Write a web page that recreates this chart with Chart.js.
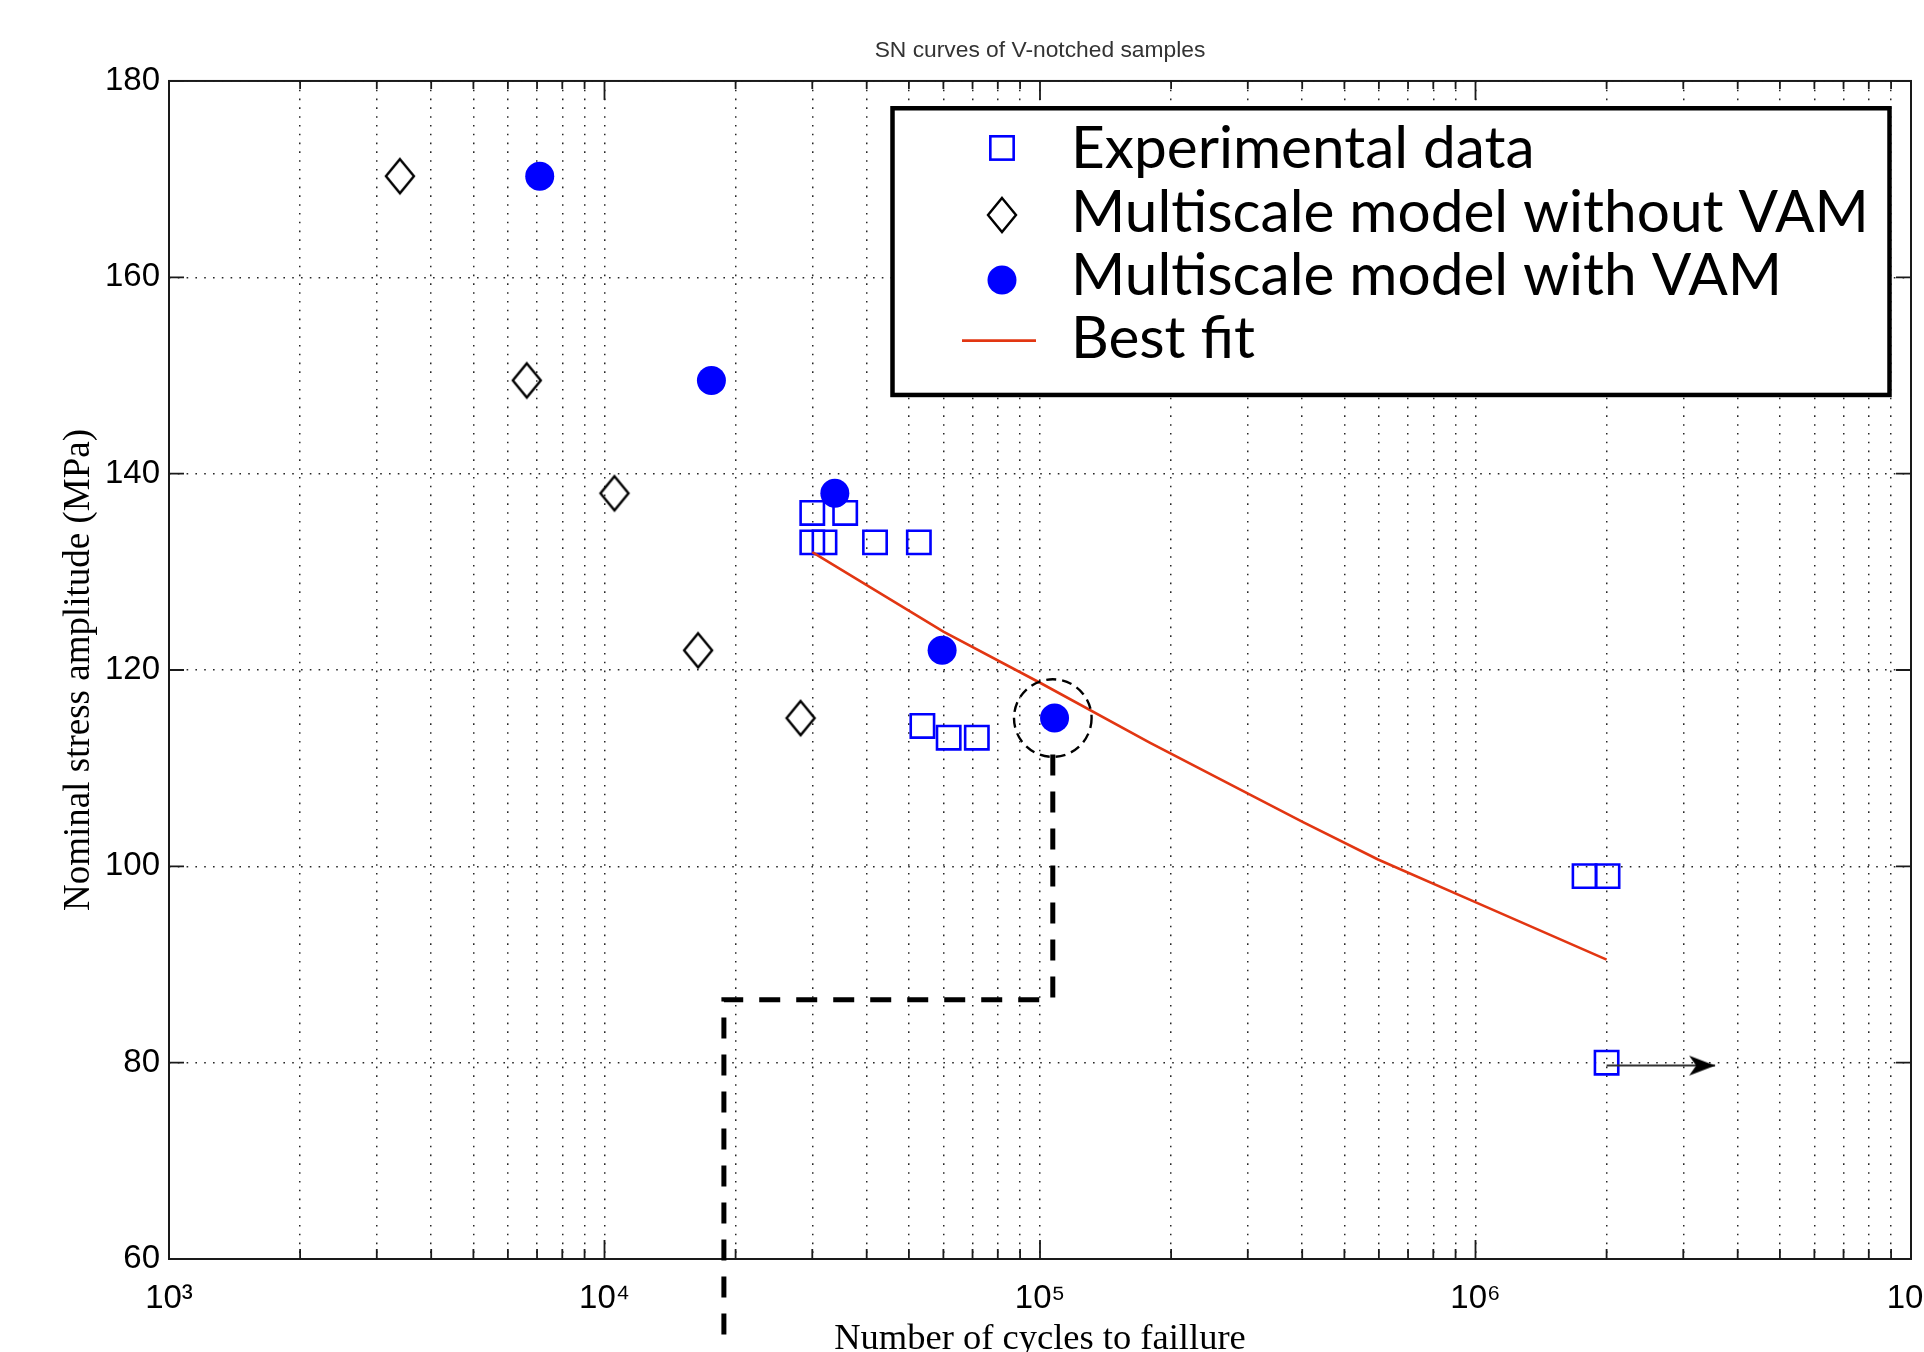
<!DOCTYPE html>
<html>
<head>
<meta charset="utf-8">
<script src="https://cdn.jsdelivr.net/npm/chart.js@4.4.1/dist/chart.umd.min.js"></script>
<style>
  html, body { margin: 0; padding: 0; background: #ffffff; }
  canvas { display: block; }
</style>
</head>
<body>
<canvas id="c" width="1924" height="1352"></canvas>
<script>
// ---------------- data ----------------
const titleText = 'SN curves of V-notched samples';
const xTitle = 'Number of cycles to faillure';
const yTitle = 'Nominal stress amplitude (MPa)';
const seriesLabels = ['Experimental data', 'Multiscale model without VAM', 'Multiscale model with VAM', 'Best fit'];

const expCycles = [30000, 35700, 30000, 32000, 41800, 52700, 53700, 61700, 71600, 1780000, 2010000, 2000000];
const expStress = [136, 136, 133, 133, 133, 133, 114.3, 113.1, 113.1, 99, 99, 80];

const noVamCycles = [3390, 6630, 10540, 16400, 28200];
const noVamStress = [170.3, 149.5, 138, 122, 115.1];

const vamCycles = [7100, 17600, 33800, 59600, 108000];
const vamStress = [170.3, 149.5, 138, 122, 115.1];

const fitCycles = [30000, 60000, 100000, 178600, 300400, 401800, 597300, 1005000, 2000000];
const fitStress = [132, 123.9, 118.7, 112.6, 107.4, 104.5, 100.7, 96.3, 90.5];

const circledCycles = [107000];
const circledStress = [115.1];

const guideCycles = [107000, 107000, 18800, 18800];
const guideStress = [111.4, 86.4, 86.4, 51.4];

const runoutCycles = [2000000, 3550000];
const runoutStress = [79.7, 79.7];

const xTickPowers = [1e3, 1e4, 1e5, 1e6, 1e7];
const xTickLabels = ['10\u00B3', '10\u2074', '10\u2075', '10\u2076', '10\u2077'];
const yTicks = [60, 80, 100, 120, 140, 160, 180];

// ---------------- helpers ----------------
const pts = (xs, ys) => xs.map((x, i) => ({ x: x, y: ys[i] }));

const xGrid = [];
for (let i = 0; i < xTickPowers.length - 1; i++) {
  for (let m = 1; m <= 9; m++) xGrid.push(m * xTickPowers[i]);
}
xGrid.push(xTickPowers[xTickPowers.length - 1]);

function makeDiamond() {
  const c = document.createElement('canvas');
  c.width = 34; c.height = 42;
  const g = c.getContext('2d');
  g.strokeStyle = '#000000';
  g.lineWidth = 2.4;
  g.lineJoin = 'miter';
  g.beginPath();
  g.moveTo(17, 4); g.lineTo(31, 21); g.lineTo(17, 38); g.lineTo(3, 21);
  g.closePath();
  g.stroke();
  return c;
}
function makeArrowHead() {
  const c = document.createElement('canvas');
  c.width = 56; c.height = 22;
  const g = c.getContext('2d');
  g.fillStyle = '#000000';
  g.beginPath();
  g.moveTo(28, 11); g.lineTo(2, 1); g.lineTo(9, 11); g.lineTo(2, 21);
  g.closePath();
  g.fill();
  return c;
}
const diamondImg = makeDiamond();
const arrowImg = makeArrowHead();

const BLUE = '#0000ff';
const RED = '#e23612';

// ---------------- plugins ----------------
const framePlugin = {
  id: 'frame',
  beforeDatasetsDraw(chart) {
    const { ctx, chartArea: a, scales } = chart;
    const x = scales.x, y = scales.y;
    ctx.save();
    ctx.strokeStyle = '#1a1a1a';
    ctx.lineWidth = 2;
    ctx.strokeRect(a.left, a.top, a.right - a.left, a.bottom - a.top);
    ctx.beginPath();
    x.ticks.forEach(t => {
      const px = x.getPixelForValue(t.value);
      const major = xTickPowers.includes(t.value);
      const lb = major ? 19 : 10;
      const lt = major ? 19 : 8;
      ctx.moveTo(px, a.bottom); ctx.lineTo(px, a.bottom - lb);
      ctx.moveTo(px, a.top); ctx.lineTo(px, a.top + lt);
    });
    y.ticks.forEach(t => {
      const py = y.getPixelForValue(t.value);
      ctx.moveTo(a.left, py); ctx.lineTo(a.left + 15, py);
      ctx.moveTo(a.right, py); ctx.lineTo(a.right - 15, py);
    });
    ctx.lineWidth = 1.8;
    ctx.stroke();
    ctx.restore();
  }
};

const dashPointPlugin = {
  id: 'dashPoints',
  beforeDatasetDraw(chart, args) {
    const d = chart.data.datasets[args.index];
    if (d.pointDash) { chart.ctx.save(); chart.ctx.setLineDash(d.pointDash); }
  },
  afterDatasetDraw(chart, args) {
    const d = chart.data.datasets[args.index];
    if (d.pointDash) chart.ctx.restore();
  }
};

const legendPlugin = {
  id: 'boxLegend',
  afterDraw(chart) {
    const { ctx, chartArea: a } = chart;
    const items = chart.data.datasets.filter(d => d.inLegend);
    const bx = a.left + 723.5, by = a.top + 27.3, bw = 997, bh = 286.7;
    ctx.save();
    ctx.fillStyle = '#ffffff';
    ctx.fillRect(bx, by, bw, bh);
    ctx.strokeStyle = '#000000';
    ctx.lineWidth = 4.5;
    ctx.strokeRect(bx, by, bw, bh);

    // font sized so the longest label spans the legend text width
    const family = 'Lato, "Open Sans", sans-serif';
    ctx.font = '60px ' + family;
    let longest = 0;
    items.forEach(d => { longest = Math.max(longest, ctx.measureText(d.label).width); });
    const size = 60 * 798 / longest;
    ctx.font = size.toFixed(2) + 'px ' + family;

    const textX = a.left + 902;
    const symX = a.left + 833;
    const baselines = [87.3, 150.7, 214, 277];
    const symYs = [67, 134, 199, 259.7];
    items.forEach((d, i) => {
      const sy = a.top + symYs[i];
      if (d.showLine && !d.pointRadius) {
        ctx.strokeStyle = d.borderColor;
        ctx.lineWidth = d.borderWidth;
        ctx.beginPath();
        ctx.moveTo(a.left + 793, sy); ctx.lineTo(a.left + 867, sy);
        ctx.stroke();
      } else if (d.pointStyle === 'rect') {
        const s = d.pointRadius * Math.SQRT2;
        ctx.strokeStyle = d.pointBorderColor;
        ctx.lineWidth = d.pointBorderWidth;
        ctx.strokeRect(symX - s / 2, sy - s / 2, s, s);
      } else if (d.pointStyle === 'circle') {
        ctx.fillStyle = d.pointBackgroundColor;
        ctx.beginPath();
        ctx.arc(symX, sy, d.pointRadius, 0, Math.PI * 2);
        ctx.fill();
      } else if (typeof d.pointStyle === 'object') {
        const img = d.pointStyle;
        ctx.drawImage(img, symX - img.width / 2, sy - img.height / 2);
      }
      ctx.fillStyle = '#000000';
      ctx.textBaseline = 'alphabetic';
      ctx.textAlign = 'left';
      ctx.fillText(d.label, textX, a.top + baselines[i]);
    });
    ctx.restore();
  }
};

// ---------------- chart ----------------
const tickFont = { family: '"Liberation Sans", Arial, sans-serif', size: 33, weight: 'normal' };
const gridStyle = { color: 'rgba(0,0,0,0.85)', lineWidth: 1.5, drawTicks: false };
const gridBorder = { display: false, dash: [1.6, 7.2] };

new Chart(document.getElementById('c').getContext('2d'), {
  type: 'scatter',
  data: {
    datasets: [
      {
        label: seriesLabels[0], inLegend: true, order: 5,
        data: pts(expCycles, expStress),
        pointStyle: 'rect', pointRadius: 16.5, pointBorderWidth: 2.6,
        pointBorderColor: BLUE, borderColor: BLUE,
        pointBackgroundColor: 'rgba(0,0,0,0)', backgroundColor: 'rgba(0,0,0,0)'
      },
      {
        label: seriesLabels[1], inLegend: true, order: 4,
        data: pts(noVamCycles, noVamStress),
        pointStyle: diamondImg, pointRadius: 15, pointBorderWidth: 0,
        borderColor: '#000000', backgroundColor: 'rgba(0,0,0,0)'
      },
      {
        label: seriesLabels[2], inLegend: true, order: 3,
        data: pts(vamCycles, vamStress),
        pointStyle: 'circle', pointRadius: 14.5, pointBorderWidth: 0,
        pointBackgroundColor: BLUE, pointBorderColor: BLUE,
        borderColor: BLUE, backgroundColor: BLUE
      },
      {
        label: seriesLabels[3], inLegend: true, order: 2,
        data: pts(fitCycles, fitStress),
        showLine: true, tension: 0, borderColor: RED, borderWidth: 2.6,
        pointRadius: 0, backgroundColor: RED
      },
      {
        label: 'circled point', order: 1,
        data: pts(circledCycles, circledStress),
        pointStyle: 'circle', pointRadius: 38.8, pointBorderWidth: 2.4,
        pointBorderColor: '#000000', pointBackgroundColor: 'rgba(0,0,0,0)',
        pointDash: [10, 6]
      },
      {
        label: 'guide', order: 1, clip: false,
        data: pts(guideCycles, guideStress),
        showLine: true, tension: 0, borderColor: '#000000', borderWidth: 5,
        borderDash: [21, 16], borderCapStyle: 'butt', borderJoinStyle: 'miter',
        pointRadius: 0
      },
      {
        label: 'run-out', order: 0,
        data: pts(runoutCycles, runoutStress),
        showLine: true, tension: 0, borderColor: '#333333', borderWidth: 2,
        pointStyle: ['circle', arrowImg], pointRadius: [0, 12], pointBorderWidth: 0,
        pointBackgroundColor: '#000000'
      }
    ]
  },
  options: {
    responsive: false,
    animation: false,
    events: [],
    layout: { autoPadding: false, padding: { left: 0, right: 13, top: 0, bottom: 0 } },
    plugins: {
      legend: { display: false },
      tooltip: { enabled: false },
      title: {
        display: true, text: titleText, fullSize: false, color: '#333333',
        font: { family: '"Liberation Sans", Arial, sans-serif', size: 22.8, weight: 'normal', lineHeight: 1.2 },
        padding: { top: 37.5, bottom: 16.1 }
      }
    },
    scales: {
      x: {
        type: 'logarithmic', position: 'bottom', min: 1e3, max: 1e7,
        afterBuildTicks: s => { s.ticks = xGrid.map(v => ({ value: v })); },
        afterFit: s => { s.height = 93; s.paddingLeft = 0; s.paddingRight = 0; },
        ticks: {
          autoSkip: false, maxRotation: 0, minRotation: 0, padding: 20,
          color: '#000000', font: tickFont,
          callback: v => { const i = xTickPowers.indexOf(v); return i >= 0 ? xTickLabels[i] : ''; }
        },
        grid: gridStyle,
        border: gridBorder,
        title: {
          display: true, text: xTitle, color: '#000000',
          font: { family: '"Liberation Serif", "Times New Roman", serif', size: 36.5, weight: 'normal', lineHeight: 0.84 },
          padding: { top: 0, bottom: -3 }
        }
      },
      y: {
        type: 'linear', position: 'left', min: 60, max: 180,
        afterBuildTicks: s => { s.ticks = yTicks.map(v => ({ value: v })); },
        afterFit: s => { s.width = 169; s.paddingTop = 0; s.paddingBottom = 0; },
        ticks: { padding: 9, color: '#000000', font: tickFont },
        grid: gridStyle,
        border: gridBorder,
        title: {
          display: true, text: yTitle, color: '#000000',
          font: { family: '"Liberation Serif", "Times New Roman", serif', size: 37, weight: 'normal', lineHeight: 0.84 },
          padding: { top: 64, bottom: 0 }
        }
      }
    }
  },
  plugins: [framePlugin, dashPointPlugin, legendPlugin]
});
</script>
</body>
</html>
